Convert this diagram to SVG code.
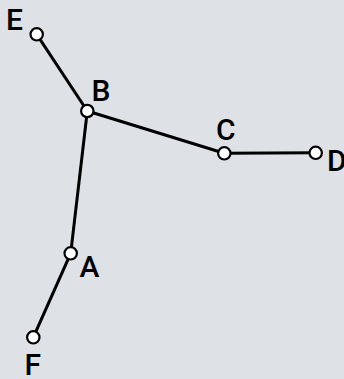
<svg xmlns="http://www.w3.org/2000/svg" width="344" height="379" viewBox="0 0 344 379">
<style>
.edge{stroke:#000;stroke-width:3;fill:none}
.node{fill:#fff;stroke:#000;stroke-width:2.2}
.lbl{font-family:Roboto,"Liberation Sans",sans-serif;font-size:30px;font-weight:500;fill:#000}
</style>
<rect width="344" height="379" fill="#dee2e6"/>
<g id="edges">
<line class="edge" x1="36.7" y1="34.3" x2="87.3" y2="111"/>
<line class="edge" x1="87.3" y1="111" x2="224.3" y2="153.3"/>
<line class="edge" x1="224.3" y1="153.3" x2="315.7" y2="152.8"/>
<line class="edge" x1="87.3" y1="111" x2="70.7" y2="253.3"/>
<line class="edge" x1="70.7" y1="253.3" x2="33.3" y2="337.3"/>
</g>
<g id="node-E"><circle class="node" cx="36.7" cy="34.3" r="6.2"/><text class="lbl" x="6" y="30">E</text></g>
<g id="node-B"><circle class="node" cx="87.3" cy="111" r="6.2"/><text class="lbl" x="91.5" y="101">B</text></g>
<g id="node-C"><circle class="node" cx="224.3" cy="153.3" r="6.2"/><text class="lbl" x="216" y="139.5">C</text></g>
<g id="node-D"><circle class="node" cx="315.7" cy="152.8" r="6.2"/><text class="lbl" x="327" y="170.5">D</text></g>
<g id="node-A"><circle class="node" cx="70.7" cy="253.3" r="6.2"/><text class="lbl" x="79.5" y="277">A</text></g>
<g id="node-F"><circle class="node" cx="33.3" cy="337.3" r="6.2"/><text class="lbl" x="24.5" y="375">F</text></g>
</svg>
